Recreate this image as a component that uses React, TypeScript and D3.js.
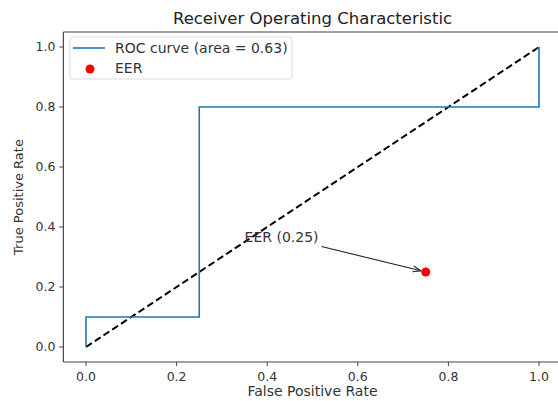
import React from 'react';
import * as d3 from 'd3';

// ROC steps (fpr, tpr)
const fpr = [0, 0, 0.25, 0.25, 1, 1];
const tpr = [0, 0.1, 0.1, 0.8, 0.8, 1];
const chance = [[0, 0], [1, 1]];
const eer = { x: 0.75, y: 0.25, label: 'EER (0.25)', textX: 0.35, textY: 0.35 };
const xTicks = [0, 0.2, 0.4, 0.6, 0.8, 1.0];
const yTicks = [0, 0.2, 0.4, 0.6, 0.8, 1.0];

const W = 558;
const H = 401;
const font = 'DejaVu Sans, sans-serif';
const blue = '#1f77b4';

const App = () => {
  // axes box: left 63, top 32, bottom 362, right spine falls off the picture
  const x = d3.scaleLinear().domain([-0.05, 1.05]).range([63.35, 561.65]);
  const y = d3.scaleLinear().domain([-0.05, 1.05]).range([362, 32]);

  const roc = d3.line<number>().x((_, i) => x(fpr[i])).y((_, i) => y(tpr[i]))(fpr) || '';
  const diag = d3.line<number[]>().x(d => x(d[0])).y(d => y(d[1]))(chance) || '';

  const [x0, x1] = x.range();
  const [y0, y1] = y.range();

  // annotation arrow from end of text to the point
  const tx = x(eer.textX);
  const ty = y(eer.textY);
  const ax1 = tx + 77, ay1 = ty + 4.5;
  const px = x(eer.x), py = y(eer.y);
  const ang = Math.atan2(py - ay1, px - ax1);
  const ax2 = px - Math.cos(ang) * 5, ay2 = py - Math.sin(ang) * 5;
  const hl = 8, hw = 3;
  const head = [
    [ax2 - hl * Math.cos(ang) + hw * Math.sin(ang), ay2 - hl * Math.sin(ang) - hw * Math.cos(ang)],
    [ax2, ay2],
    [ax2 - hl * Math.cos(ang) - hw * Math.sin(ang), ay2 - hl * Math.sin(ang) + hw * Math.cos(ang)],
  ];

  return (
    <svg width={W} height={H} style={{ position: 'fixed', left: 0, top: 0, background: '#fff' }} fontFamily={font}>
      <rect x={0} y={0} width={W} height={H} fill="#fff" />
      <text x={(x0 + x1) / 2} y={24} textAnchor="middle" fontSize={16.5} fill="#222">Receiver Operating Characteristic</text>

      {/* chance line and ROC */}
      <path d={diag} fill="none" stroke="#000" strokeWidth={2} strokeDasharray="7,3.5" />
      <path d={roc} fill="none" stroke={blue} strokeWidth={1.6} />

      {/* EER point and annotation */}
      <circle cx={px} cy={py} r={4.5} fill="#ff0000" />
      <line x1={ax1} y1={ay1} x2={ax2} y2={ay2} stroke="#222" strokeWidth={1.1} />
      <polyline points={head.map(p => p.join(',')).join(' ')} fill="none" stroke="#222" strokeWidth={1.1} />
      <text x={tx} y={ty} fontSize={14} fill="#333">{eer.label}</text>

      {/* spines */}
      <line x1={x0} y1={y1} x2={W} y2={y1} stroke="#444" strokeWidth={1.2} />
      <line x1={x0} y1={y0} x2={W} y2={y0} stroke="#444" strokeWidth={1.2} />
      <line x1={x0} y1={y0} x2={x0} y2={y1} stroke="#444" strokeWidth={1.2} />

      {/* x ticks */}
      {xTicks.map(t => (
        <g key={'x' + t} transform={`translate(${x(t)},${y0})`}>
          <line y2={4} stroke="#444" strokeWidth={1} />
          <text y={18.5} textAnchor="middle" fontSize={12.5} fill="#333">{t.toFixed(1)}</text>
        </g>
      ))}
      {/* y ticks */}
      {yTicks.map(t => (
        <g key={'y' + t} transform={`translate(${x0},${y(t)})`}>
          <line x2={-4} stroke="#444" strokeWidth={1} />
          <text x={-8} dy="0.35em" textAnchor="end" fontSize={12.5} fill="#333">{t.toFixed(1)}</text>
        </g>
      ))}

      <text x={(x0 + x1) / 2} y={396} textAnchor="middle" fontSize={14} fill="#333">False Positive Rate</text>
      <text transform={`translate(23,${(y0 + y1) / 2}) rotate(-90)`} textAnchor="middle" fontSize={13} fill="#333">True Positive Rate</text>

      {/* legend */}
      <g transform="translate(70,37)">
        <rect x={0} y={0} width={222} height={42} rx={3} fill="#fff" fillOpacity={0.8} stroke="#ddd" />
        <line x1={3} x2={35} y1={11} y2={11} stroke={blue} strokeWidth={1.6} />
        <text x={45} y={16} fontSize={14} fill="#333">ROC curve (area = 0.63)</text>
        <circle cx={20} cy={32} r={4.5} fill="#ff0000" />
        <text x={45} y={35.5} fontSize={14} fill="#333">EER</text>
      </g>
    </svg>
  );
};

export default App;
